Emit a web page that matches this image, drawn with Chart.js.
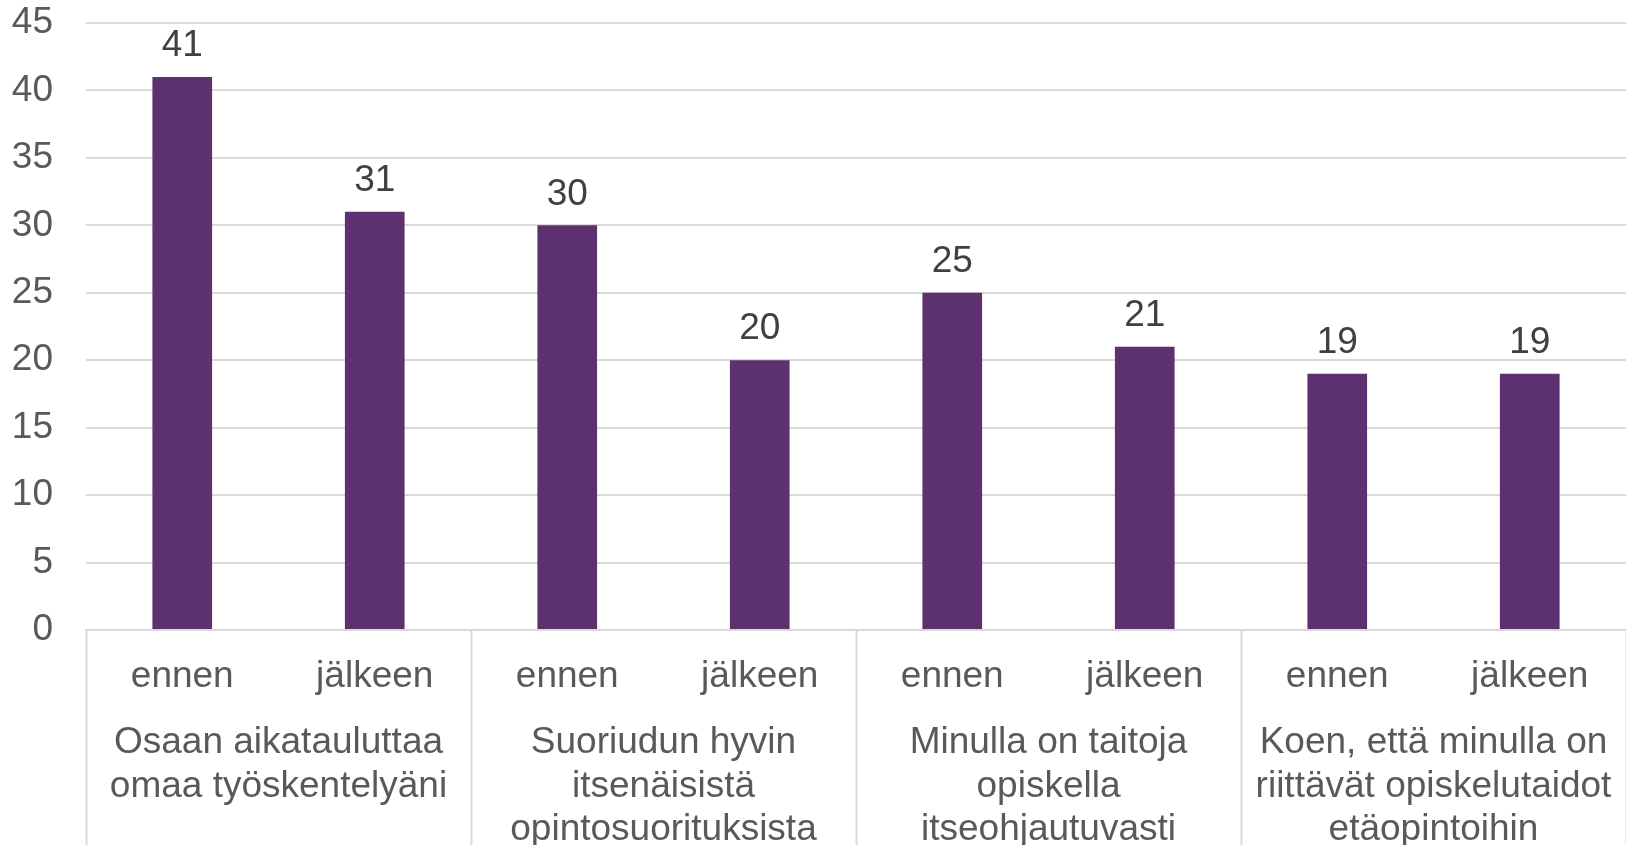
<!DOCTYPE html>
<html>
<head>
<meta charset="utf-8">
<script src="https://cdn.jsdelivr.net/npm/chart.js@4"></script>
<style>
  html, body { margin: 0; padding: 0; background: #fff; overflow: hidden; }
  #wrap { width: 1626px; height: 845px; }
</style>
</head>
<body>
<div id="wrap"><canvas id="chart"></canvas></div>
<script>
// sub labels for each bar
var phases = ['ennen', 'jälkeen', 'ennen', 'jälkeen', 'ennen', 'jälkeen', 'ennen', 'jälkeen'];
// statement groups (two bars each)
var statements = [
    ['Osaan aikatauluttaa', 'omaa työskentelyäni'],
    ['Suoriudun hyvin', 'itsenäisistä', 'opintosuorituksista'],
    ['Minulla on taitoja', 'opiskella', 'itseohjautuvasti'],
    ['Koen, että minulla on', 'riittävät opiskelutaidot', 'etäopintoihin']
];
var values = [41, 31, 30, 20, 25, 21, 19, 19];
var yTicks = [0, 5, 10, 15, 20, 25, 30, 35, 40, 45];

var fontFamily = '"Liberation Sans", Arial, sans-serif';
var axisColor = '#595959';
var gridColor = '#D9D9D9';

// value labels above bars
var valueLabels = {
    id: 'valueLabels',
    afterDatasetsDraw: function (chart) {
        var ctx = chart.ctx;
        var meta = chart.getDatasetMeta(0);
        ctx.save();
        ctx.font = '37px ' + fontFamily;
        ctx.fillStyle = '#404040';
        ctx.textAlign = 'center';
        ctx.textBaseline = 'middle';
        meta.data.forEach(function (bar, i) {
            ctx.fillText(values[i], bar.x, bar.y - 31);
        });
        ctx.restore();
    }
};

// group separators going down through the label area
var groupLines = {
    id: 'groupLines',
    afterDraw: function (chart) {
        var x = chart.scales.x;
        var ctx = chart.ctx;
        var step = (x.right - x.left) / phases.length;
        ctx.save();
        ctx.strokeStyle = gridColor;
        ctx.lineWidth = 2;
        for (var k = 0; k <= phases.length; k += 2) {
            var px = Math.round(x.left + k * step) + 0.5;
            ctx.beginPath();
            ctx.moveTo(px, chart.chartArea.bottom);
            ctx.lineTo(px, chart.height);
            ctx.stroke();
        }
        ctx.restore();
    }
};

// keep wide labels from pushing the plot area around
function noPad(scale) {
    scale.paddingLeft = 0;
    scale.paddingRight = 0;
    scale.paddingTop = 0;
    scale.paddingBottom = 0;
}

var ctx = document.getElementById('chart').getContext('2d');
var myChart = new Chart(ctx, {
    type: 'bar',
    data: {
        labels: phases,
        datasets: [{
            data: values,
            backgroundColor: '#5D3170',
            borderWidth: 0,
            barPercentage: 0.31,
            categoryPercentage: 1.0
        }]
    },
    options: {
        responsive: true,
        maintainAspectRatio: false,
        animation: false,
        layout: { padding: { left: 12, right: 0, top: 23, bottom: -4 } },
        plugins: {
            legend: { display: false },
            tooltip: { enabled: false }
        },
        scales: {
            y: {
                min: 0,
                max: 45,
                afterBuildTicks: function (scale) {
                    scale.ticks = yTicks.map(function (v) { return { value: v }; });
                },
                afterFit: function (scale) {
                    noPad(scale);
                    scale.width = 74;
                },
                border: { display: false },
                grid: { color: gridColor, lineWidth: 2, drawTicks: false },
                ticks: {
                    color: axisColor,
                    padding: 33,
                    font: { family: fontFamily, size: 37 }
                }
            },
            x: {
                weight: 1,
                afterFit: noPad,
                border: { display: true, color: gridColor, width: 2 },
                grid: { display: false, drawTicks: false },
                ticks: {
                    color: axisColor,
                    padding: 26,
                    maxRotation: 0,
                    font: { family: fontFamily, size: 37, lineHeight: 1.135 }
                }
            },
            x2: {
                type: 'category',
                position: 'bottom',
                weight: 2,
                labels: statements,
                offset: true,
                afterFit: noPad,
                border: { display: false },
                grid: { display: false, drawTicks: false },
                ticks: {
                    color: axisColor,
                    padding: -3,
                    maxRotation: 0,
                    autoSkip: false,
                    font: { family: fontFamily, size: 37, lineHeight: 1.18 }
                }
            }
        }
    },
    plugins: [valueLabels, groupLines]
});
</script>
</body>
</html>
